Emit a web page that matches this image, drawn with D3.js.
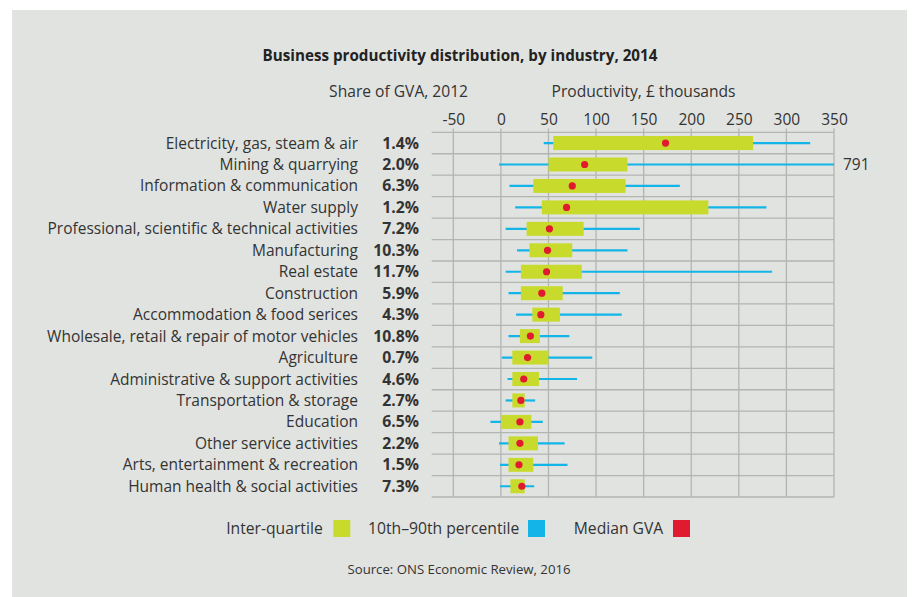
<!DOCTYPE html>
<html><head><meta charset="utf-8">
<script src="https://cdn.jsdelivr.net/npm/d3@7"></script>
<style>
html,body{margin:0;padding:0;background:#fff;}
svg{display:block;font-family:"Open Sans",sans-serif;}
</style></head>
<body>
<script>
const industries = ["Electricity, gas, steam & air","Mining & quarrying","Information & communication","Water supply","Professional, scientific & technical activities","Manufacturing","Real estate","Construction","Accommodation & food serices","Wholesale, retail & repair of motor vehicles","Agriculture","Administrative & support activities","Transportation & storage","Education","Other service activities","Arts, entertainment & recreation","Human health & social activities"];
const gvaShare = ["1.4%","2.0%","6.3%","1.2%","7.2%","10.3%","11.7%","5.9%","4.3%","10.8%","0.7%","4.6%","2.7%","6.5%","2.2%","1.5%","7.3%"];
const p10 = [45, -2, 9, 15, 5, 17, 5, 8, 16, 8, 1, 7, 5, -11, -2, -1, -1];
const p90 = [325, 791, 188, 279, 146, 133, 285, 125, 127, 72, 96, 80, 36, 44, 67, 70, 35];
const q1 = [55, 50, 34, 43, 27, 30, 21, 21, 33, 20, 12, 12, 12, 0, 8, 8, 10];
const q3 = [265, 133, 131, 218, 87, 75, 85, 65, 62, 41, 50, 40, 25, 32, 39, 34, 25];
const medians = [173, 88, 75, 69, 51, 49, 48, 43, 42, 31, 28, 24, 21, 20, 20, 19, 22];
const xTicks = [-50, 0, 50, 100, 150, 200, 250, 300, 350];

const W = 912, H = 597;
const svg = d3.select("body").append("svg").attr("width", W).attr("height", H);
svg.append("rect").attr("x", 12).attr("y", 10).attr("width", 895).attr("height", 587).attr("fill", "#e1e3e0");

const x = d3.scaleLinear().domain([-50, 350]).range([453.3, 834]);
const y = d3.scaleBand().domain(industries).range([132.3, 497]).padding(0);
const textCol = "#333";

// title
svg.append("text").attr("x", 460).attr("y", 61).attr("text-anchor", "middle")
  .attr("font-size", 15.2).attr("font-weight", 700).attr("fill", "#222")
  .text("Business productivity distribution, by industry, 2014");
svg.append("text").attr("x", 468).attr("y", 97).attr("text-anchor", "end")
  .attr("font-size", 15.6).attr("fill", textCol).text("Share of GVA, 2012");
svg.append("text").attr("x", 551.5).attr("y", 97).attr("text-anchor", "start")
  .attr("font-size", 15.6).attr("fill", textCol).text("Productivity, £ thousands");

// grid
const grid = svg.append("g");
const yLines = industries.map(d => y(d)).concat([y.range()[1]]);
grid.selectAll("line.h").data(yLines).join("line")
  .attr("x1", 431.7).attr("x2", x(350)).attr("y1", d => d).attr("y2", d => d)
  .attr("stroke", "#b3b5b3").attr("stroke-width", 1.3);
grid.selectAll("line.v").data(xTicks).join("line")
  .attr("x1", d => x(d)).attr("x2", d => x(d)).attr("y1", 128.5).attr("y2", y.range()[1])
  .attr("stroke", "#b3b5b3").attr("stroke-width", 1.3);

// top axis
const axis = d3.axisTop(x).tickValues(xTicks).tickSize(0).tickPadding(0).tickFormat(d => String(d));
const ax = svg.append("g").attr("transform", "translate(0,125)").call(axis);
ax.select(".domain").remove();
ax.selectAll("text").attr("font-size", 15.5).attr("fill", textCol).attr("font-family", "Open Sans").attr("dy", 0);

const bw = y.bandwidth();
const rows = industries.map((d, i) => ({name: d, share: gvaShare[i], p10: p10[i], p90: p90[i], q1: q1[i], q3: q3[i], med: medians[i]}));
const cx = v => x(Math.max(-50, Math.min(350, v)));

const g = svg.append("g");
g.selectAll("line.w").data(rows).join("line")
  .attr("x1", d => cx(d.p10)).attr("x2", d => cx(d.p90))
  .attr("y1", d => y(d.name) + bw / 2).attr("y2", d => y(d.name) + bw / 2)
  .attr("stroke", "#13b5e8").attr("stroke-width", 2.2);
g.selectAll("rect.b").data(rows).join("rect")
  .attr("x", d => x(d.q1)).attr("width", d => x(d.q3) - x(d.q1))
  .attr("y", d => y(d.name) + bw / 2 - 7).attr("height", 14)
  .attr("fill", "#c8db2d");
g.selectAll("circle").data(rows).join("circle")
  .attr("cx", d => x(d.med)).attr("cy", d => y(d.name) + bw / 2).attr("r", 3.6)
  .attr("fill", "#e01a2f");

// overflow label
g.selectAll("text.over").data(rows.filter(d => d.p90 > 350)).join("text")
  .attr("x", 843).attr("y", d => y(d.name) + bw / 2 + 5.5)
  .attr("font-size", 15.5).attr("fill", textCol).text(d => d.p90);

// category labels
svg.append("g").selectAll("text").data(rows).join("text")
  .attr("x", 358).attr("y", d => y(d.name) + bw / 2 + 5.5).attr("text-anchor", "end")
  .attr("font-size", 15.5).attr("fill", textCol).text(d => d.name);
svg.append("g").selectAll("text").data(rows).join("text")
  .attr("x", 419).attr("y", d => y(d.name) + bw / 2 + 5.5).attr("text-anchor", "end")
  .attr("font-size", 15.8).attr("font-weight", 700).attr("fill", textCol).text(d => d.share);

// legend
const legend = [
  {label: "Inter-quartile", color: "#c8db2d", tx: 322.7, sx: 333.3},
  {label: "10th\u201390th percentile", color: "#13b5e8", tx: 519.3, sx: 528},
  {label: "Median GVA", color: "#e01a2f", tx: 663.3, sx: 673}
];
const lg = svg.append("g");
lg.selectAll("text").data(legend).join("text")
  .attr("x", d => d.tx).attr("y", 534).attr("text-anchor", "end")
  .attr("font-size", 15.7).attr("fill", textCol).text(d => d.label);
lg.selectAll("rect").data(legend).join("rect")
  .attr("x", d => d.sx).attr("y", 520).attr("width", 17).attr("height", 17).attr("fill", d => d.color);

svg.append("text").attr("x", 459).attr("y", 574).attr("text-anchor", "middle")
  .attr("font-size", 13.2).attr("fill", textCol).text("Source: ONS Economic Review, 2016");
</script>
</body></html>
